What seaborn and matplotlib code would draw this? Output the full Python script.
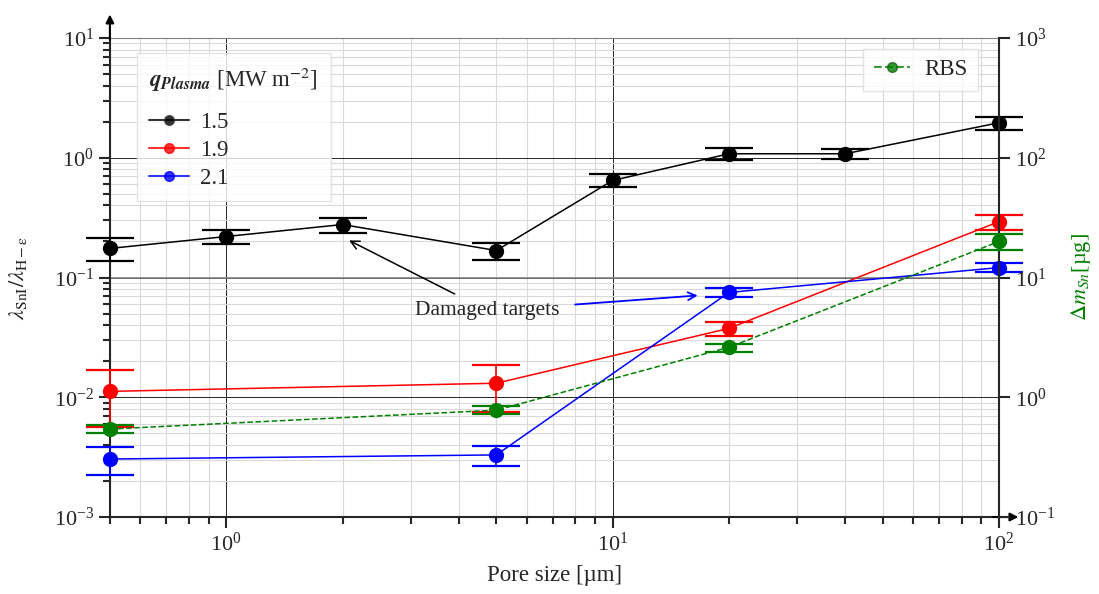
import numpy as np
import pandas as pd
import seaborn as sns
import matplotlib.pyplot as plt
from matplotlib.lines import Line2D
from matplotlib.ticker import NullLocator

# data
pore = [0.5, 1, 2, 5, 10, 20, 40, 100]
lam_15 = [0.175, 0.22, 0.277, 0.168, 0.646, 1.08, 1.08, 1.96]
err_15 = [0.038, 0.03, 0.04, 0.028, 0.08, 0.12, 0.1, 0.24]

pore_19 = [0.5, 5, 20, 100]
lam_19 = [0.0112, 0.0131, 0.0376, 0.293]
err_19 = [0.0056, 0.0055, 0.005, 0.042]

pore_21 = [0.5, 5, 20, 100]
lam_21 = [0.00305, 0.0033, 0.075, 0.121]
err_21 = [0.0008, 0.00065, 0.0065, 0.01]

pore_rbs = [0.5, 5, 20, 100]
rbs = [0.543, 0.78, 2.61, 20.0]
err_rbs = [0.04, 0.06, 0.2, 3.0]

q_labels = ["1.5", "1.9", "2.1"]
colors = ["black", "red", "blue"]

sns.set_style("ticks")
plt.rcParams['font.family'] = ['Liberation Serif', 'DejaVu Serif']
plt.rcParams['mathtext.fontset'] = 'stix'

df = pd.concat([
    pd.DataFrame({'pore': pore, 'lam': lam_15, 'q': q_labels[0]}),
    pd.DataFrame({'pore': pore_19, 'lam': lam_19, 'q': q_labels[1]}),
    pd.DataFrame({'pore': pore_21, 'lam': lam_21, 'q': q_labels[2]}),
])

fig = plt.figure(figsize=(10.99, 5.94), dpi=100)
ax = fig.add_axes([0.100, 0.1296, 0.809, 0.8064])

sns.lineplot(data=df, x='pore', y='lam', hue='q', palette=colors, marker='o',
             markersize=11, markeredgewidth=0, lw=1.1, legend=False, ax=ax,
             zorder=3, clip_on=False)
for xs, ys, es, c in [(pore, lam_15, err_15, 'black'), (pore_19, lam_19, err_19, 'red'),
                      (pore_21, lam_21, err_21, 'blue')]:
    ax.errorbar(xs, ys, yerr=es, fmt='none', ecolor=c, elinewidth=1.2,
                capsize=17, capthick=1.6, zorder=3, clip_on=False)

ax.set_xscale('log')
ax.set_yscale('log')
ax.set_xlim(0.5, 100)
ax.set_ylim(1e-3, 10)

ax.grid(which='minor', color='#d9d9d9', lw=0.8, zorder=0)
ax.grid(which='major', color='black', lw=0.6, zorder=0)
ax.axhline(0.1, color='gray', lw=1.2, zorder=1)
ax.set_axisbelow(True)

ax.spines['top'].set_color('gray')
ax.spines['right'].set_visible(False)
ax.spines['left'].set_linewidth(1.5)
ax.spines['bottom'].set_linewidth(1.5)
ax.tick_params(which='major', direction='out', length=8, width=1.5, labelsize=16)
ax.tick_params(which='minor', direction='out', length=5, width=1.5)

ax.set_xlabel('Pore size [µm]', fontsize=16.5, labelpad=6)
ax.set_ylabel(r'$\lambda_{\rm SnI}/\lambda_{\rm H-\epsilon}$', fontsize=16, labelpad=18)

# axis arrows
ax.annotate('', xy=(0, 1.055), xytext=(0, 0.99), xycoords='axes fraction',
            arrowprops=dict(arrowstyle='-|>', color='black', lw=1.5, mutation_scale=12))
ax.annotate('', xy=(1.025, 0), xytext=(0.99, 0), xycoords='axes fraction',
            arrowprops=dict(arrowstyle='-|>', color='black', lw=1.5, mutation_scale=12))

# annotations
ax.annotate('Damaged targets', xy=(2.08, 0.204), xytext=(4.74, 0.053), fontsize=15.5,
            ha='center', va='center',
            arrowprops=dict(arrowstyle='->', color='black', lw=1.1, shrinkA=6, shrinkB=0))
ax.annotate('', xy=(16.6, 0.0708), xytext=(8.0, 0.0595),
            arrowprops=dict(arrowstyle='->', color='blue', lw=1.3, shrinkA=0, shrinkB=0,
                            mutation_scale=14))

handles = [Line2D([], [], color=c, marker='o', ms=7, lw=1.5,
                  markerfacecolor=c, markeredgecolor='#333333' if c == 'black' else c,
                  alpha=0.8) for c in colors]
leg = ax.legend(handles, q_labels, title=r'$\mathbfit{q_{Plasma}}$ [MW m$^{-2}$]',
                loc='upper left', bbox_to_anchor=(0.030, 0.969), borderaxespad=0,
                fontsize=16.5, title_fontsize=16.5, frameon=True, fancybox=False,
                handlelength=1.75, labelspacing=0.3, borderpad=0.55, handletextpad=0.45,
                framealpha=0.8, edgecolor='#dddddd')
leg._legend_box.sep = 13
leg._legend_box.align = 'left'

# right axis (RBS)
ax2 = ax.twinx()
ax2.set_position(ax.get_position())
df_rbs = pd.DataFrame({'pore': pore_rbs, 'rbs': rbs})
sns.lineplot(data=df_rbs, x='pore', y='rbs', color='green', marker='o', markersize=11,
             markeredgewidth=0, lw=1.1, ls='--', ax=ax2, zorder=3, clip_on=False)
ax2.errorbar(pore_rbs, rbs, yerr=err_rbs, fmt='none', ecolor='green', elinewidth=1.2,
             capsize=17, capthick=1.6, zorder=3, clip_on=False)
ax2.set_yscale('log')
ax2.set_ylim(0.1, 1000)
ax2.set_xlim(0.5, 100)
ax2.yaxis.set_minor_locator(NullLocator())
for s in ['top', 'left', 'bottom']:
    ax2.spines[s].set_visible(False)
ax2.spines['right'].set_linewidth(1.5)
ax2.tick_params(which='major', direction='out', length=8, width=1.5, labelsize=16)
ax2.set_ylabel(r'$\Delta m_{Sn}$[µg]', fontsize=16, color='green', labelpad=10)

rbs_h = Line2D([], [], color='green', marker='o', ms=7, lw=1.5, ls='--',
               markeredgecolor='#1a5e1a', alpha=0.8)
ax2.legend([rbs_h], ['RBS'], loc='upper right', bbox_to_anchor=(0.976, 0.977),
           borderaxespad=0, fontsize=16.5, frameon=True, fancybox=False,
           handlelength=1.6, handletextpad=0.6, borderpad=0.45,
           framealpha=0.8, edgecolor='#dddddd')

fig.savefig('out.png', dpi=100)
